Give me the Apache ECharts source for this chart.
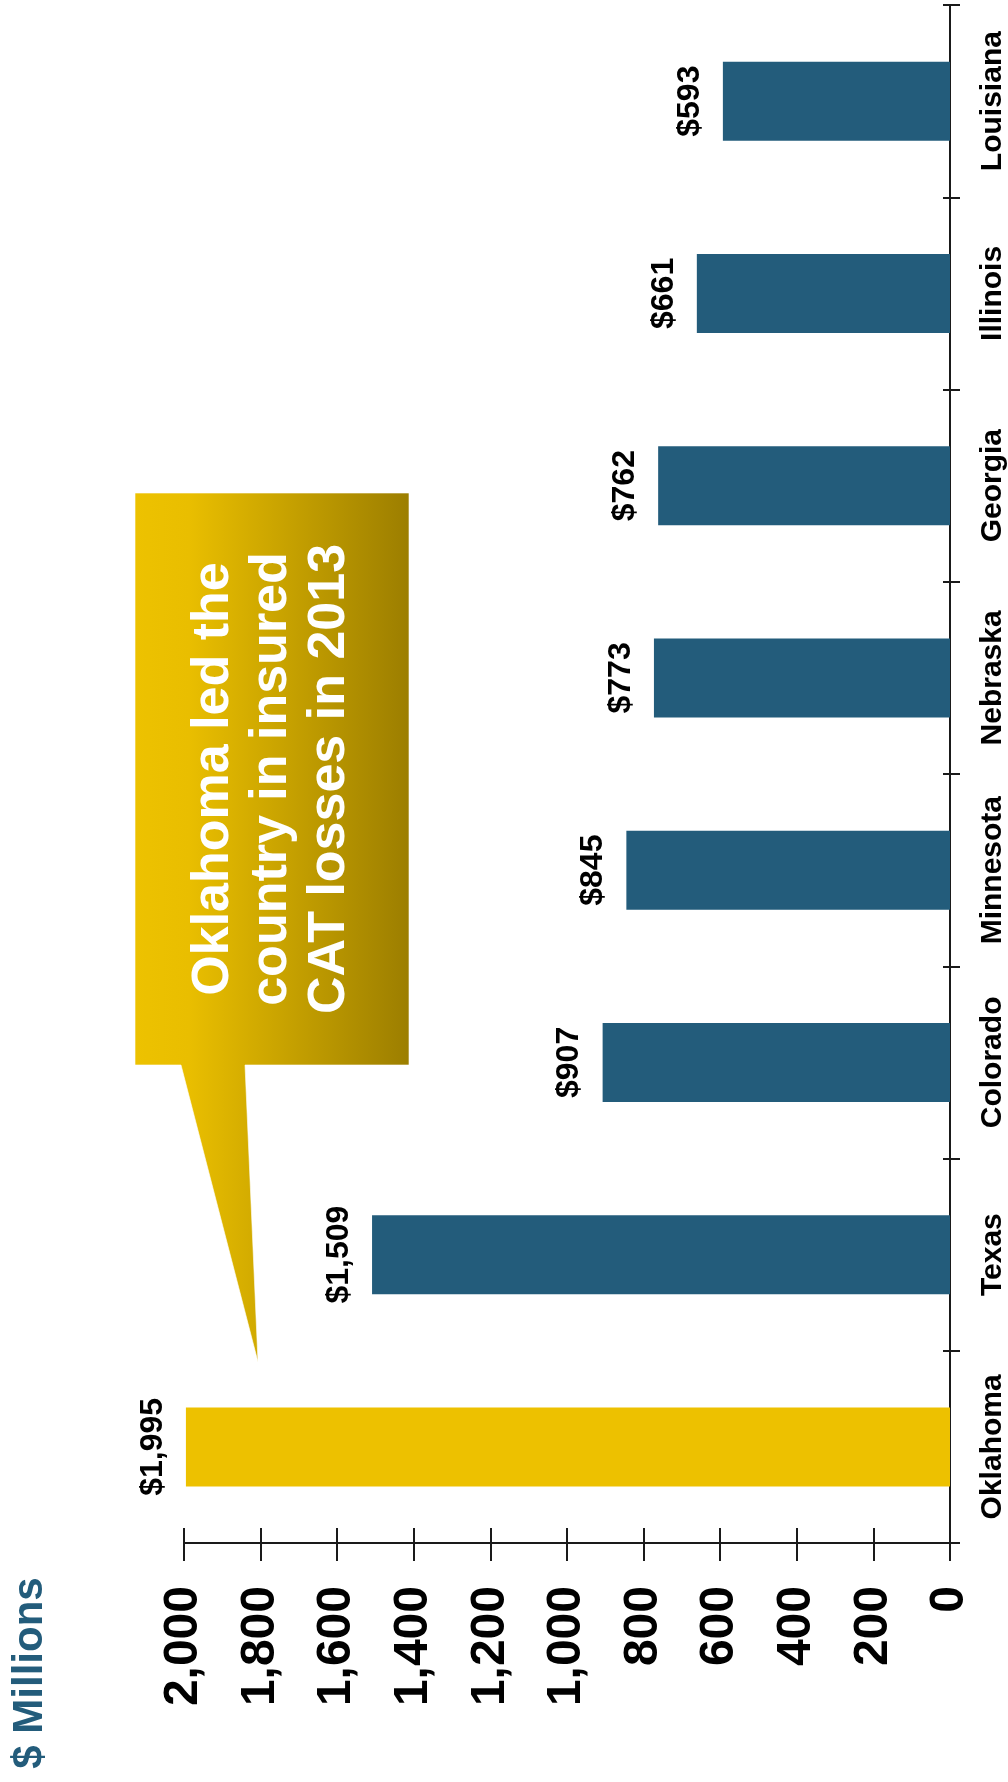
<!DOCTYPE html>
<html>
<head>
<meta charset="utf-8">
<script src="https://cdn.jsdelivr.net/npm/echarts@6/dist/echarts.min.js"></script>
<style>
  html, body { margin: 0; padding: 0; background: #ffffff; }
  #chart { width: 1008px; height: 1782px; }
</style>
</head>
<body>
<div id="chart"></div>
<script>
// Insured catastrophe losses by state, 2013 ($ millions)
const states = ['Oklahoma', 'Texas', 'Colorado', 'Minnesota', 'Nebraska', 'Georgia', 'Illinois', 'Louisiana'];
const losses = [1995, 1509, 907, 845, 773, 762, 661, 593];
const valueTicks = { min: 0, max: 2000, interval: 200 };
const unitLabel = '$ Millions';
const calloutLines = ['Oklahoma led the', 'country in insured', 'CAT losses in 2013'];

const FONT = '"Liberation Sans", Arial, Helvetica, sans-serif';
const BLUE = '#235C7B';
const GOLD = '#EDC100';
const AXIS = '#1a1a1a';

const fmt = v => Number(v).toLocaleString('en-US');

const chart = echarts.init(document.getElementById('chart'), null, { renderer: 'canvas' });

const axisCommonX = {
  type: 'value',
  inverse: true,
  position: 'bottom',
  min: valueTicks.min,
  max: valueTicks.max,
  interval: valueTicks.interval,
  splitLine: { show: false }
};

const axisCommonY = {
  type: 'category',
  data: states,
  position: 'right',
  splitLine: { show: false }
};

chart.setOption({
  animation: false,
  backgroundColor: '#ffffff',
  grid: { left: 184, right: 58, top: 5, bottom: 239, containLabel: false },
  xAxis: [
    Object.assign({}, axisCommonX, {
      axisLine: { show: true, lineStyle: { color: AXIS, width: 2 } },
      axisTick: { show: true, length: 18, lineStyle: { color: AXIS, width: 2 } },
      axisLabel: {
        rotate: 90,
        margin: 43,
        color: '#000',
        fontFamily: FONT,
        fontWeight: 'bold',
        fontSize: 48,
        formatter: fmt
      }
    }),
    // inner half of the crossing ticks
    Object.assign({}, axisCommonX, {
      axisLine: { show: false },
      axisTick: { show: true, inside: true, length: 15, lineStyle: { color: AXIS, width: 2 } },
      axisLabel: { show: false }
    })
  ],
  yAxis: [
    Object.assign({}, axisCommonY, {
      axisLine: { show: true, lineStyle: { color: AXIS, width: 2 } },
      axisTick: { show: true, length: 10, lineStyle: { color: AXIS, width: 2 } },
      axisLabel: {
        interval: 0,
        rotate: 90,
        margin: 28,
        color: '#000',
        fontFamily: FONT,
        fontWeight: 'bold',
        fontSize: 30
      }
    }),
    Object.assign({}, axisCommonY, {
      axisLine: { show: false },
      axisTick: { show: true, inside: true, length: 7, lineStyle: { color: AXIS, width: 2 } },
      axisLabel: { show: false }
    })
  ],
  series: [{
    type: 'bar',
    xAxisIndex: 0,
    yAxisIndex: 0,
    barWidth: 79,
    data: losses.map((v, i) => ({
      value: v,
      itemStyle: { color: i === 0 ? GOLD : BLUE }
    })),
    label: {
      show: true,
      position: 'left',
      distance: 17,
      rotate: 90,
      align: 'center',
      verticalAlign: 'bottom',
      color: '#000',
      fontFamily: FONT,
      fontWeight: 'bold',
      fontSize: 32,
      formatter: p => '$' + fmt(p.value)
    }
  }],
  graphic: [
    {
      type: 'text',
      x: 30,
      y: 1673,
      rotation: Math.PI / 2,
      style: {
        text: unitLabel,
        fill: BLUE,
        font: 'bold 42px ' + FONT,
        align: 'center',
        verticalAlign: 'middle',
        textAlign: 'center',
        textVerticalAlign: 'middle'
      }
    },
    {
      type: 'polygon',
      z: 10,
      shape: {
        points: [[135, 493], [409, 493], [409, 1065], [245, 1065], [258, 1362], [181, 1065], [135, 1065]]
      },
      style: {
        fill: new echarts.graphic.LinearGradient(0, 0, 1, 0, [
          { offset: 0, color: '#EDC200' },
          { offset: 0.2, color: '#E9BE00' },
          { offset: 1, color: '#9C7E00' }
        ]),
        stroke: 'rgba(255,255,255,0.6)',
        lineWidth: 1
      }
    },
    {
      type: 'text',
      z: 11,
      x: 272,
      y: 779,
      rotation: Math.PI / 2,
      style: {
        text: calloutLines.join('\n'),
        fill: '#ffffff',
        font: 'bold 52px ' + FONT,
        lineHeight: 58,
        align: 'center',
        verticalAlign: 'middle',
        textAlign: 'center',
        textVerticalAlign: 'middle'
      }
    }
  ]
});
</script>
</body>
</html>
